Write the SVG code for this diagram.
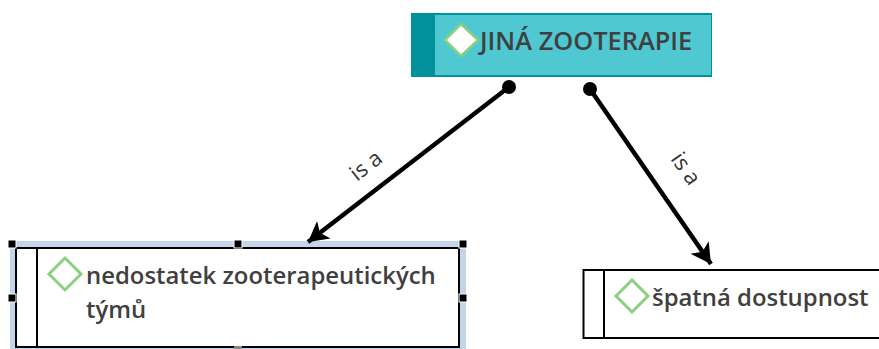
<svg xmlns="http://www.w3.org/2000/svg" width="879" height="349" viewBox="0 0 879 349">
<style>
text{font-family:"Open Sans","Noto Sans",sans-serif;font-weight:600;fill:#404040;font-size:23.900px}
.top{font-size:25.400px}
.lbl{font-size:22px;font-weight:400;fill:#333}
.box{fill:#fff;stroke:#000;stroke-width:2}
.dia{fill:none;stroke:#8ad07f;stroke-width:3}
.h{fill:#000;stroke:#fff;stroke-width:1}
.c{stroke:#000;stroke-width:4.500;fill:none}
</style>
<defs>
<marker id="arr" markerUnits="userSpaceOnUse" markerWidth="26" markerHeight="26" refX="20" refY="13" orient="auto"><path d="M0 2L20 13L0 24L5 13Z" fill="#000"/></marker>
</defs>
<g id="node-top">
<rect x="411" y="13" width="301" height="64" fill="#00929c"/>
<rect x="435" y="15" width="276" height="60" fill="#4fc8d2"/>
<path d="M461 24L478 40L461 56L445 40Z" fill="#fff" stroke="#8ad07f" stroke-width="2.500"/>
<text class="top" x="480" y="50">JINÁ ZOOTERAPIE</text>
</g>
<g id="node-left">
<rect x="10" y="241" width="456" height="108" fill="#c3d5e8"/>
<rect class="box" x="16" y="248" width="443" height="99"/>
<path d="M37 248V347" stroke="#000" stroke-width="2"/>
<path class="dia" d="M65 258L81 274L65 290L49 274Z"/>
<text x="86" y="284">nedostatek zooterapeutických</text>
<text x="86" y="318">týmů</text>
<rect x="234" y="346" width="8" height="3" fill="#888"/>
<rect class="h" x="8" y="240" width="8" height="8"/>
<rect class="h" x="234" y="240" width="8" height="8"/>
<rect class="h" x="459" y="240" width="8" height="8"/>
<rect class="h" x="8" y="294" width="8" height="8"/>
<rect class="h" x="459" y="294" width="8" height="8"/>
</g>
<g id="node-right">
<rect class="box" x="583.500" y="270" width="300" height="68"/>
<path d="M604 270V338" stroke="#000" stroke-width="2"/>
<path class="dia" d="M632 280L648 296L632 312L616 296Z"/>
<text x="652" y="306">špatná dostupnost</text>
</g>
<g id="connectors">
<path class="c" d="M509 87L308 242" marker-end="url(#arr)"/>
<circle cx="509" cy="87" r="7"/>
<path class="c" d="M590 89L711 264" marker-end="url(#arr)"/>
<circle cx="590" cy="89" r="7"/>
<text class="lbl" transform="translate(357 182) rotate(-38)">is a</text>
<text class="lbl" transform="translate(670 159) rotate(55)">is a</text>
</g>
</svg>
